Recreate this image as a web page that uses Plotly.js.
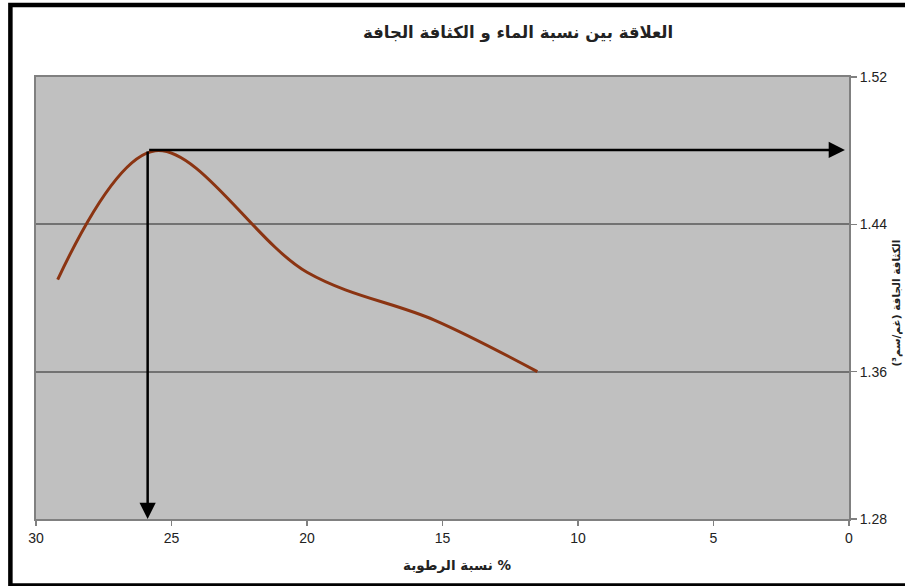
<!DOCTYPE html>
<html>
<head>
<meta charset="utf-8">
<script src="https://cdn.plot.ly/plotly-3.0.1.min.js"></script>
<style>html,body{margin:0;padding:0;background:#fff;}#chart{width:905px;height:586px;}</style>
</head>
<body>
<div id="chart"></div>
<script>
// Data
var moisture = [29.2, 25.6, 20.0, 15.3, 11.5];
var dryDensity = [1.410, 1.480, 1.414, 1.388, 1.360];
var xTicks = [30, 25, 20, 15, 10, 5, 0];
var yTicks = [1.28, 1.36, 1.44, 1.52];
var peakPoint = [25.88, 1.4804];
var chartTitle = 'العلاقة بين نسبة الماء و الكثافة الجافة';
var xTitle = '\u200Eنسبة الرطوبة %';
var yTitle = 'الكثافة الجافة (غم/سم³)';

var trace = {
  x: moisture, y: dryDensity, type: 'scatter', mode: 'lines',
  line: {color: '#8B3412', width: 3, shape: 'spline', smoothing: 1},
  hoverinfo: 'none'
};

var layout = {
  width: 905, height: 586,
  margin: {l: 36, r: 56, t: 77, b: 67, pad: 0},
  paper_bgcolor: '#ffffff',
  plot_bgcolor: '#C0C0C0',
  showlegend: false,
  font: {family: 'Liberation Sans, Arial, sans-serif', size: 14, color: '#222'},
  xaxis: {
    range: [30, 0], tickvals: xTicks, ticktext: xTicks.map(String),
    showgrid: false, zeroline: false,
    showline: true, linecolor: '#808080', linewidth: 2, mirror: true,
    ticks: 'outside', ticklen: 5, tickcolor: '#808080', tickwidth: 1.5,
    tickfont: {size: 14, color: '#222'}, fixedrange: true
  },
  yaxis: {
    side: 'right', range: [1.28, 1.52], tickvals: yTicks,
    ticktext: yTicks.map(function(v){return v.toFixed(2);}),
    showgrid: true, gridcolor: '#727272', gridwidth: 2, zeroline: false,
    showline: true, linecolor: '#808080', linewidth: 2, mirror: true,
    ticks: 'outside', ticklen: 6, tickcolor: '#808080', tickwidth: 1.5,
    tickfont: {size: 14, color: '#222'}, fixedrange: true
  },
  annotations: [
    {xref: 'paper', yref: 'paper', x: 0.593, y: 1.0995, yanchor: 'middle', text: '<b>' + chartTitle + '</b>',
     showarrow: false, font: {family: 'DejaVu Sans, sans-serif', size: 16.5, color: '#222'}},
    {xref: 'paper', yref: 'paper', x: 0.518, y: -0.104, yanchor: 'middle', text: '<b>' + xTitle + '</b>',
     showarrow: false, font: {family: 'DejaVu Sans, sans-serif', size: 13.5, color: '#222'}},
    {xref: 'paper', yref: 'paper', x: 1.069, y: 0.489, text: '<b>' + yTitle + '</b>', textangle: -90,
     showarrow: false, font: {family: 'DejaVu Sans, sans-serif', size: 10.5, color: '#222'}},
    {xref: 'x', yref: 'y', axref: 'x', ayref: 'y', x: 0.15, y: peakPoint[1], ax: peakPoint[0], ay: peakPoint[1],
     text: '', showarrow: true, arrowhead: 2, arrowsize: 1.3, arrowwidth: 2.5, arrowcolor: '#000', standoff: 0},
    {xref: 'x', yref: 'y', axref: 'x', ayref: 'y', x: peakPoint[0], y: 1.28, ax: peakPoint[0], ay: peakPoint[1],
     text: '', showarrow: true, arrowhead: 2, arrowsize: 1.3, arrowwidth: 2.5, arrowcolor: '#000', standoff: 0}
  ],
  shapes: [
    {type: 'rect', xref: 'paper', yref: 'paper', x0: -0.0315, x1: 1.08, y0: -0.1505, y1: 1.163,
     line: {color: '#000', width: 4.5}, fillcolor: 'rgba(0,0,0,0)', layer: 'above'}
  ]
};

Plotly.newPlot('chart', [trace], layout, {staticPlot: true, displayModeBar: false});
</script>
</body>
</html>
